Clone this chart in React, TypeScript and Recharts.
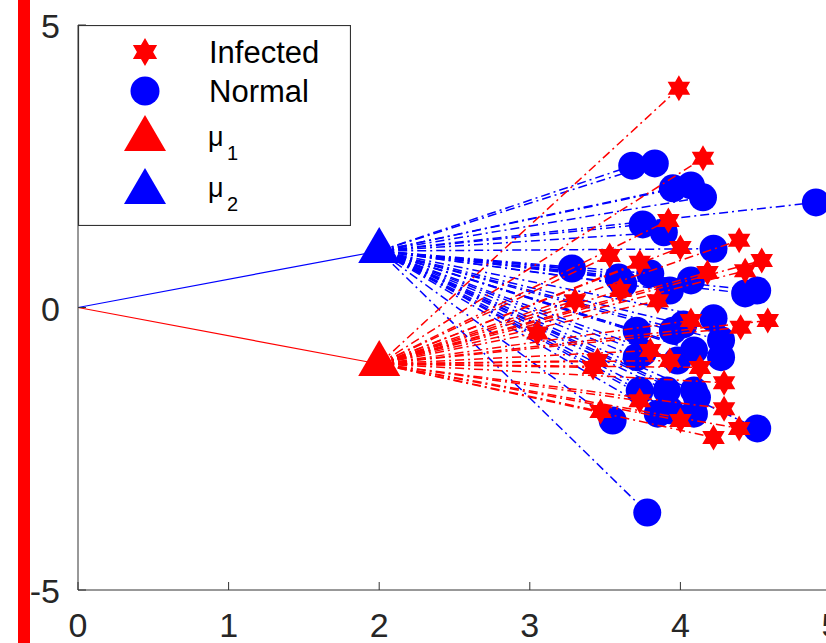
import React from "react";
import { ScatterChart, Scatter, XAxis, YAxis, Legend } from "recharts";

const xTicks = [0, 1, 2, 3, 4, 5];
const yTicks = [-5, 0, 5];

const origin = { x: 0, y: 0 };
const mu1 = { x: 2, y: -1 };
const mu2 = { x: 2, y: 1 };

const normalX = [3.68, 3.83, 3.95, 4.07, 4.15, 4.9, 3.75, 3.89, 4.22, 3.28, 3.59, 3.8, 4.07, 3.93, 4.43, 4.51, 4.22, 3.71, 3.95, 4.27, 4.27, 3.75, 4.09, 3.73, 3.91, 4.09, 4.11, 3.85, 3.93, 4.09, 3.55, 4.51, 3.78, 3.71, 3.98, 3.62, 4.02];
const normalY = [2.51, 2.55, 2.11, 2.16, 1.95, 1.86, 1.47, 1.33, 1.04, 0.69, 0.53, 0.6, 0.48, 0.3, 0.25, 0.3, -0.19, -0.41, -0.41, -0.58, -0.88, -0.8, -0.76, -1.47, -1.47, -1.47, -1.59, -1.88, -1.82, -1.88, -2.0, -2.14, -3.63, -0.88, -0.94, 0.42, -0.3];

const infectedX = [3.99, 4.15, 3.92, 4.0, 3.53, 3.73, 4.39, 4.54, 4.43, 4.18, 3.85, 3.6, 4.58, 4.4, 3.8, 3.45, 4.13, 4.29, 4.29, 3.47, 4.22, 4.39, 3.42, 3.93, 3.05, 3.3, 4.07, 3.73, 4.0];
const infectedY = [3.88, 2.64, 1.54, 1.06, 0.92, 0.8, 1.19, 0.83, 0.65, 0.62, 0.12, 0.3, -0.23, -0.35, -0.76, -0.94, -1.06, -1.33, -1.79, -1.84, -2.3, -2.14, -1.06, -0.94, -0.45, 0.12, -0.23, -1.65, -2.0];

const normal = normalX.map((x, i) => ({ x, y: normalY[i] }));
const infected = infectedX.map((x, i) => ({ x, y: infectedY[i] }));

const RED = "#ff0000";
const BLUE = "#0000ff";
const AXIS = "#333333";
const FONT = "'Liberation Sans', Arial, Helvetica, sans-serif";
const DASH = "9 4 2 4";

// marker shapes
const hexagram = (cx: number, cy: number, r: number) => {
  const pts: string[] = [];
  for (let i = 0; i < 12; i++) {
    const rr = i % 2 === 0 ? r : r * 0.577;
    const a = -Math.PI / 2 + (i * Math.PI) / 6;
    pts.push(`${cx + rr * Math.cos(a)},${cy + rr * Math.sin(a)}`);
  }
  return pts.join(" ");
};
const triangle = (cx: number, cy: number) =>
  `${cx},${cy - 24} ${cx - 21},${cy + 12} ${cx + 21},${cy + 12}`;

const Star = (p: any) => <polygon points={hexagram(p.cx, p.cy, 13)} fill={RED} />;
const Dot = (p: any) => <circle cx={p.cx} cy={p.cy} r={14} fill={BLUE} />;
const RedTri = (p: any) => <polygon points={triangle(p.cx, p.cy)} fill={RED} />;
const BlueTri = (p: any) => <polygon points={triangle(p.cx, p.cy)} fill={BLUE} />;
const NoShape = () => <g />;

// inward MATLAB-style ticks
const BottomTick = (p: any) => (
  <g>
    <line x1={p.x} y1={p.y} x2={p.x} y2={p.y - 8} stroke={AXIS} />
    <text x={p.x} y={p.y + 47} textAnchor="middle" fontSize={34} fontFamily={FONT} fill="#262626">
      {p.payload.value}
    </text>
  </g>
);
const LeftTick = (p: any) => (
  <g>
    <line x1={p.x} y1={p.y} x2={p.x + 8} y2={p.y} stroke={AXIS} />
    <text x={p.x - 18} y={p.y + 13} textAnchor="end" fontSize={34} fontFamily={FONT} fill="#262626">
      {p.payload.value}
    </text>
  </g>
);
const TopTick = (p: any) => <line x1={p.x} y1={p.y} x2={p.x} y2={p.y + 8} stroke={AXIS} />;
const RightTick = (p: any) => <line x1={p.x} y1={p.y} x2={p.x - 8} y2={p.y} stroke={AXIS} />;

const LegendBox = () => (
  <svg width={273} height={201} style={{ display: "block" }}>
    <rect x={0.5} y={0.5} width={272} height={200} fill="#fff" stroke={AXIS} strokeWidth={1.2} />
    <polygon points={hexagram(67, 27, 14)} fill={RED} />
    <circle cx={67} cy={66} r={14.5} fill={BLUE} />
    <polygon points={triangle(67, 114)} fill={RED} />
    <polygon points={triangle(67, 167)} fill={BLUE} />
    <g fontFamily={FONT} fill="#000">
      <text x={131} y={38} fontSize={31}>Infected</text>
      <text x={131} y={77} fontSize={31}>Normal</text>
      <text x={130} y={121} fontSize={27}>μ</text>
      <text x={149} y={135} fontSize={20}>1</text>
      <text x={130} y={172} fontSize={27}>μ</text>
      <text x={149} y={186} fontSize={20}>2</text>
    </g>
  </svg>
);

export default function App() {
  return (
    <div
      style={{
        position: "absolute",
        left: 0,
        top: 0,
        width: 826,
        height: 643,
        overflow: "hidden",
        background: "#fff",
      }}
    >
      <div style={{ position: "absolute", left: 18, top: 0, width: 12, height: 643, background: RED }} />
      <ScatterChart width={840} height={643} margin={{ top: 25, right: 9, bottom: 0, left: 0 }}>
        <XAxis
          type="number"
          dataKey="x"
          domain={[0, 5]}
          ticks={xTicks}
          height={53}
          tickSize={0}
          tickMargin={0}
          tick={BottomTick}
          axisLine={{ stroke: AXIS }}
          tickLine={false}
          allowDataOverflow
        />
        <XAxis
          xAxisId="top"
          orientation="top"
          type="number"
          domain={[0, 5]}
          ticks={xTicks}
          height={0}
          tickSize={0}
          tickMargin={0}
          tick={TopTick}
          axisLine={{ stroke: AXIS }}
          tickLine={false}
        />
        <YAxis
          type="number"
          dataKey="y"
          domain={[-5, 5]}
          ticks={yTicks}
          width={78}
          tickSize={0}
          tickMargin={0}
          tick={LeftTick}
          axisLine={{ stroke: AXIS }}
          tickLine={false}
          allowDataOverflow
        />
        <YAxis
          yAxisId="right"
          orientation="right"
          type="number"
          domain={[-5, 5]}
          ticks={yTicks}
          width={0}
          tickSize={0}
          tickMargin={0}
          tick={RightTick}
          axisLine={{ stroke: AXIS }}
          tickLine={false}
        />
        <Legend
          layout="vertical"
          align="center"
          verticalAlign="middle"
          content={LegendBox}
          wrapperStyle={{ position: "absolute", left: 78, top: 25, width: 273, height: 201 }}
        />

        <Scatter data={[origin, mu2]} line={{ stroke: BLUE, strokeWidth: 1.2 }} shape={NoShape} isAnimationActive={false} />
        <Scatter data={[origin, mu1]} line={{ stroke: RED, strokeWidth: 1.2 }} shape={NoShape} isAnimationActive={false} />

        {normal.map((p, i) => (
          <Scatter
            key={`nl-${i}`}
            data={[mu2, p]}
            line={{ stroke: BLUE, strokeWidth: 1.5, strokeDasharray: DASH }}
            shape={NoShape}
            isAnimationActive={false}
          />
        ))}
        <Scatter name="Normal" data={normal} shape={Dot} isAnimationActive={false} />

        {infected.map((p, i) => (
          <Scatter
            key={`il-${i}`}
            data={[mu1, p]}
            line={{ stroke: RED, strokeWidth: 1.5, strokeDasharray: DASH }}
            shape={NoShape}
            isAnimationActive={false}
          />
        ))}
        <Scatter name="Infected" data={infected} shape={Star} isAnimationActive={false} />

        <Scatter name="mu1" data={[mu1]} shape={RedTri} isAnimationActive={false} />
        <Scatter name="mu2" data={[mu2]} shape={BlueTri} isAnimationActive={false} />
      </ScatterChart>
    </div>
  );
}
